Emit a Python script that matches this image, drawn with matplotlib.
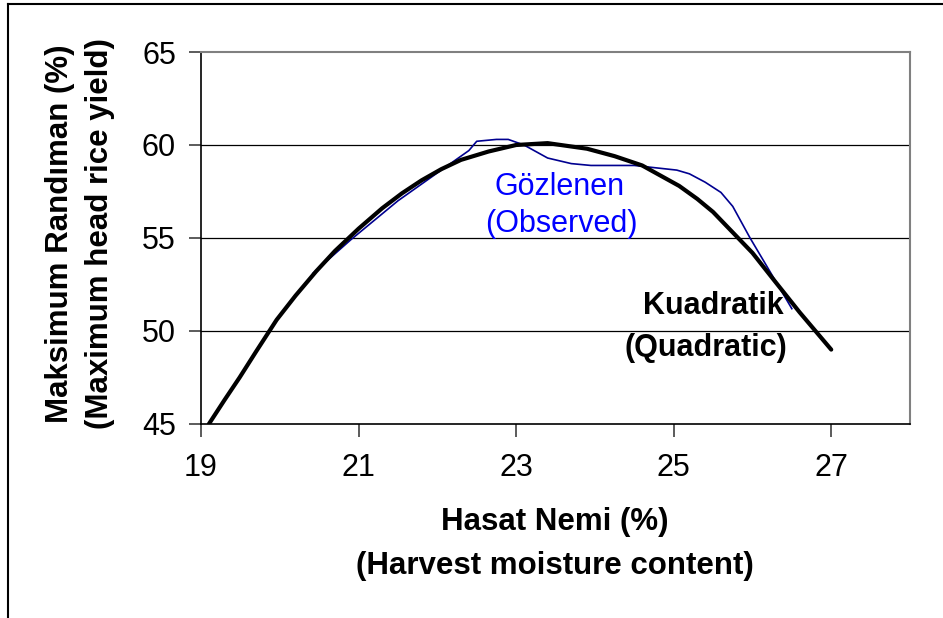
import matplotlib
matplotlib.use("Agg")
import matplotlib.pyplot as plt
from matplotlib.lines import Line2D

plt.rcParams['font.family'] = ['Liberation Sans', 'DejaVu Sans']

# quadratic fit
quad_x = [19.1, 19.3, 19.49, 19.7, 19.96, 20.2, 20.46, 20.7, 21.0, 21.3,
          21.55, 21.8, 22.05, 22.3, 22.65, 23.0, 23.4, 23.9, 24.25, 24.6,
          25.07, 25.3, 25.5, 25.75, 26.0, 26.28, 26.6, 27.0]
quad_y = [45.0, 46.3, 47.5, 48.9, 50.6, 51.9, 53.2, 54.3, 55.5, 56.6,
          57.4, 58.1, 58.7, 59.2, 59.65, 60.0, 60.1, 59.8, 59.4, 58.9,
          57.8, 57.1, 56.4, 55.3, 54.2, 52.7, 51.0, 49.0]

# observed values
obs_x = [20.42, 20.9, 21.5, 22.0, 22.4, 22.5, 22.75, 22.9, 23.1, 23.4,
         23.7, 23.95, 24.5, 25.04, 25.2, 25.4, 25.6, 25.75, 25.97, 26.18, 26.5]
obs_y = [53.1, 54.9, 57.0, 58.5, 59.7, 60.2, 60.3, 60.3, 60.0, 59.3,
         59.0, 58.9, 58.9, 58.65, 58.45, 58.0, 57.45, 56.7, 55.0, 53.5, 51.2]

x_ticks = [19, 21, 23, 25, 27]
y_ticks = [45, 50, 55, 60, 65]

W, H = 943, 618
fig = plt.figure(figsize=(W / 100, H / 100), dpi=100)
ax = fig.add_axes([201 / W, 1 - 424 / H, (910 - 201) / W, (424 - 52) / H])

for yv in y_ticks[1:-1]:
    ax.axhline(yv, color='black', lw=0.9, zorder=1)

ax.plot(obs_x, obs_y, color='#000090', lw=1.2, zorder=3)
ax.plot(quad_x, quad_y, color='black', lw=3.0, zorder=4, solid_joinstyle='round',
        solid_capstyle='round')

ax.set_xlim(19, 28)
ax.set_ylim(45, 65)
ax.set_xticks(x_ticks)
ax.set_yticks(y_ticks)
ax.tick_params(axis='both', labelsize=22, length=9, width=1.2, color='#404040', pad=9)
ax.tick_params(axis='x', pad=12)

for s in ['top', 'right']:
    ax.spines[s].set_color('#808080')
    ax.spines[s].set_linewidth(1.5)
for s in ['left', 'bottom']:
    ax.spines[s].set_color('black')
    ax.spines[s].set_linewidth(1.2)

ax.text(23.55, 57.75, 'Gözlenen', color='#0000ff', fontsize=22, ha='center', va='center')
ax.text(23.58, 55.75, '(Observed)', color='#0000ff', fontsize=22, ha='center', va='center')
ax.text(26.39, 51.34, 'Kuadratik', color='black', fontsize=22, fontweight='bold',
        ha='right', va='center')
ax.text(26.44, 49.1, '(Quadratic)', color='black', fontsize=22, fontweight='bold',
        ha='right', va='center')

fig.text(555 / W, 1 - 522 / H, 'Hasat Nemi (%)', fontsize=22.5, fontweight='bold',
         ha='center', va='center')
fig.text(555 / W, 1 - 566 / H, '(Harvest moisture content)', fontsize=22.5,
         fontweight='bold', ha='center', va='center')
fig.text(60 / W, 1 - 234 / H, 'Maksimum Randıman (%)', fontsize=22.5, fontweight='bold',
         rotation=90, ha='center', va='center')
fig.text(100 / W, 1 - 234 / H, '(Maximum head rice yield)', fontsize=22.5,
         fontweight='bold', rotation=90, ha='center', va='center')

# outer frame (top and left edges visible)
fig.add_artist(Line2D([8 / W, 1.0], [1 - 4 / H, 1 - 4 / H], color='black', lw=1.5,
                      transform=fig.transFigure))
fig.add_artist(Line2D([8 / W, 8 / W], [0.0, 1 - 4 / H], color='black', lw=1.5,
                      transform=fig.transFigure))

fig.savefig('out.png', dpi=100)
